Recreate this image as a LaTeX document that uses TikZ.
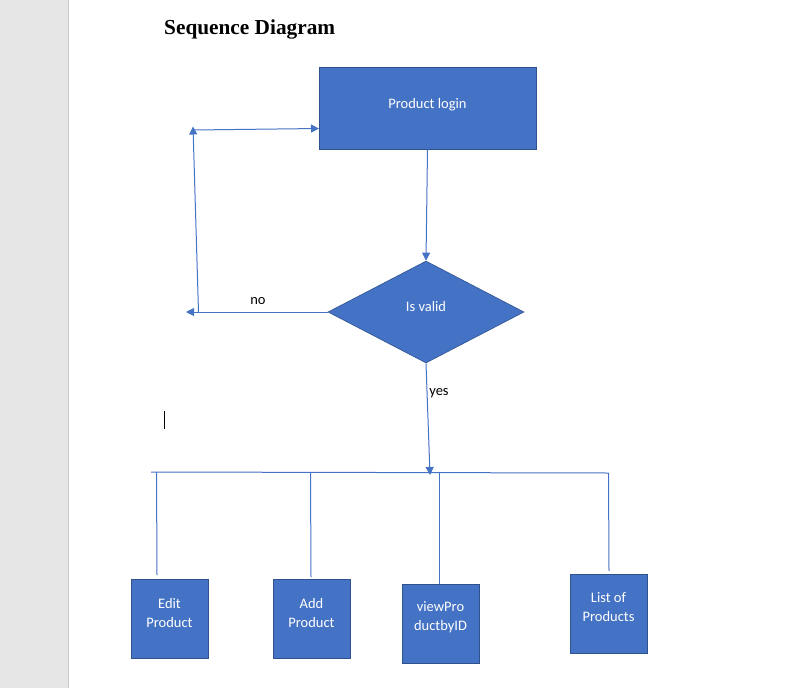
\documentclass[tikz,border=0pt]{standalone}
\usepackage{fontspec}
\setmainfont{Carlito}
\newfontfamily\titlefont{Liberation Serif}
\usetikzlibrary{shapes.geometric,arrows.meta}
\definecolor{ofblue}{HTML}{4472C4}
\definecolor{ofedge}{HTML}{2F528F}
\definecolor{pagegray}{HTML}{E6E6E6}
\definecolor{pageline}{HTML}{C8C8C8}
\begin{document}
\begin{tikzpicture}[x=1pt,y=-1pt,
  box/.style={draw=ofedge, fill=ofblue, line width=0.9pt, minimum width=77pt, minimum height=79pt, inner sep=0pt},
  boxtext/.style={text=white, font=\fontsize{14.5}{19}\selectfont, align=center, inner sep=0pt},
  conn/.style={draw=ofblue, line width=1pt},
  arr/.style={conn, -{Triangle[length=8pt,width=8pt]}},
  lbl/.style={text=black, font=\fontsize{14.5}{17}\selectfont, inner sep=0pt}]
\useasboundingbox (0,0) rectangle (789,688);
\fill[pagegray] (0,0) rectangle (68,688);
\draw[pageline, line width=1pt] (68.5,0) -- (68.5,688);
% title
\node[anchor=base west, inner sep=0pt, font=\titlefont\bfseries\fontsize{21.3}{25}\selectfont] (title) at (164,34) {Sequence Diagram};
% text cursor
\draw[black, line width=1pt] (164.5,411) -- (164.5,429);
% main nodes
\node[box, minimum width=217pt, minimum height=82pt, label={[boxtext, yshift=3.5pt]center:Product login}] (login) at (427.5,108) {};
\node[diamond, draw=ofedge, fill=ofblue, line width=0.6pt, minimum width=196pt, minimum height=102pt, inner sep=0pt, label={[boxtext, yshift=5pt]center:Is valid}] (valid) at (426,312) {};
\node[box, label={[boxtext, yshift=6pt]center:{Edit\\Product}}] (edit) at (169.5,619) {};
\node[box, label={[boxtext, yshift=6pt]center:{Add\\Product}}] (add) at (311.5,619) {};
\node[box, label={[boxtext, yshift=6pt]center:{viewPro\\ductbyID}}] (view) at (440.5,623.5) {};
\node[box, label={[boxtext, yshift=6pt]center:{List of\\Products}}] (list) at (608.5,613.5) {};
% login -> valid
\draw[arr] (login.south) -- (valid.north);
% no branch
\coordinate (noend) at (186,312);
\draw[arr] (valid.west) -- (noend);
\node[lbl] (no) at (258,301.5) {no};
\coordinate (loopbot) at (198.5,312);
\coordinate (looptop) at (193,126.5);
\draw[arr] (loopbot) -- (looptop);
\coordinate (loopstart) at (193,130);
\coordinate (loginin) at (319,128.5);
\draw[arr] (loopstart) -- (loginin);
% yes branch
\coordinate (yesend) at (430,475);
\draw[arr] (valid.south) -- (yesend);
\node[lbl] (yes) at (439,393) {yes};
% bus
\coordinate (busL) at (151,472);
\coordinate (busR) at (608.5,473);
\draw[conn] (busL) -- (busR);
\coordinate (eTop) at (156.5,472);
\coordinate (eBot) at (157,575);
\coordinate (aTop) at (310.5,472);
\coordinate (aBot) at (311,577);
\coordinate (vTop) at (439,473);
\coordinate (lTop) at (608.5,473);
\coordinate (lBot) at (609,571);
\draw[conn] (eTop) -- (eBot);
\draw[conn] (aTop) -- (aBot);
\draw[conn] (vTop) -- (vTop |- view.north);
\draw[conn] (lTop) -- (lBot);
\end{tikzpicture}
\end{document}
